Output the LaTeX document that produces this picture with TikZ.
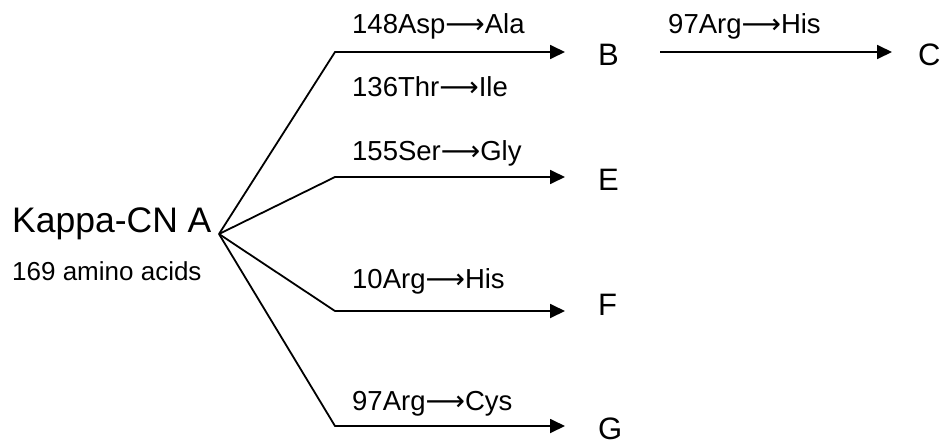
\documentclass[tikz,border=0pt]{standalone}
\usepackage{fontspec}
\setmainfont{Liberation Sans}
\newfontfamily\symfnt{DejaVu Sans}
\usetikzlibrary{arrows.meta}
\newcommand{\mutarr}{{\symfnt ⟶}}
\tikzset{
  conn/.style={line width=1.8pt, line join=miter},
  arr/.style={conn, -{Triangle[length=15pt,width=14pt]}},
  lbl/.style={anchor=base west, inner sep=0pt, font=\fontsize{27.5pt}{32pt}\selectfont},
  note/.style={anchor=base west, inner sep=0pt, font=\fontsize{26pt}{30pt}\selectfont},
  letter/.style={anchor=west, inner sep=0pt, font=\fontsize{31pt}{36pt}\selectfont},
  bigname/.style={anchor=base west, inner sep=0pt, font=\fontsize{35.5pt}{40pt}\selectfont}
}
\begin{document}
\begin{tikzpicture}[x=1pt,y=-1pt]
\useasboundingbox (0,0) rectangle (944,439);
% text
\node[bigname] (kappa) at (12,232) {Kappa-CN A};
\node[note] (aa) at (12,280) {169 amino acids};
\node[letter] (B) at (598,55) {B};
\node[letter] (C) at (918,55) {C};
\node[letter] (E) at (598,180) {E};
\node[letter] (F) at (598,305) {F};
\node[letter] (G) at (598,429) {G};
\node[lbl] (m1) at (352,33) {148Asp\mutarr Ala};
\node[lbl] (m2) at (352,96) {136Thr\mutarr Ile};
\node[lbl] (m3) at (352,160) {155Ser\mutarr Gly};
\node[lbl] (m4) at (352,288) {10Arg\mutarr His};
\node[lbl] (m5) at (352,410) {97Arg\mutarr Cys};
\node[lbl] (m6) at (668,33) {97Arg\mutarr His};
% connectors
\coordinate (hub) at (219,234);
\coordinate (cB) at (335,52);
\coordinate (cE) at (335,177);
\coordinate (cF) at (335,311);
\coordinate (cG) at (335,426);
\coordinate (tB) at (565,52);
\coordinate (tE) at (565,177);
\coordinate (tF) at (565,311);
\coordinate (tG) at (565,426);
\coordinate (sC) at (660,52);
\coordinate (tC) at (892,52);
\draw[arr] (hub) -- (cB) -- (tB);
\draw[arr] (hub) -- (cE) -- (tE);
\draw[arr] (hub) -- (cF) -- (tF);
\draw[arr] (hub) -- (cG) -- (tG);
\draw[arr] (sC) -- (tC);
\end{tikzpicture}
\end{document}
